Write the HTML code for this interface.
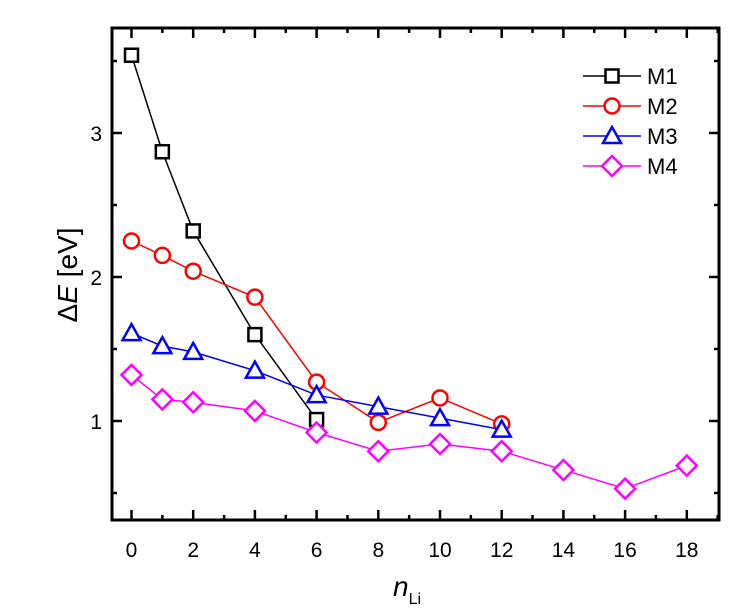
<!DOCTYPE html>
<html><head><meta charset="utf-8"><style>body{margin:0;background:#fff}svg{display:block;font-family:"Liberation Sans",sans-serif}</style></head>
<body>
<svg id="chart" width="736" height="615" xmlns="http://www.w3.org/2000/svg"></svg>
<script>
const xTicks=[0,2,4,6,8,10,12,14,16,18];
const yTicks=[1,2,3];
const m1X=[0,1,2,4,6], m1Y=[3.54,2.87,2.32,1.60,1.01];
const m2X=[0,1,2,4,6,8,10,12], m2Y=[2.25,2.15,2.04,1.86,1.27,0.99,1.16,0.98];
const m3X=[0,1,2,4,6,8,10,12], m3Y=[1.61,1.52,1.48,1.35,1.18,1.10,1.02,0.94];
const m4X=[0,1,2,4,6,8,10,12,14,16,18], m4Y=[1.32,1.15,1.13,1.07,0.92,0.79,0.84,0.79,0.66,0.53,0.69];
const names=["M1","M2","M3","M4"], colors=["#000","#f00","#00f","#f0f"], shapes=["square","circle","triangle","diamond"];
const L=112,R=719,T=28,B=520;
const sx=v=>131.5+v*30.85;
const sy=v=>421-(v-1)*144;
const svg=document.getElementById('chart');
const NS="http://www.w3.org/2000/svg";
function mk(tag,attrs,parent){const e=document.createElementNS(NS,tag);for(const k in attrs)e.setAttribute(k,attrs[k]);(parent||svg).appendChild(e);return e;}
function marker(shape,x,y,c,g){
  if(shape==="square")return mk('rect',{x:x-6.5,y:y-6.5,width:13,height:13,fill:'#fff',stroke:c,'stroke-width':2.5},g);
  if(shape==="circle")return mk('circle',{cx:x,cy:y,r:7.5,fill:'#fff',stroke:c,'stroke-width':2.5},g);
  if(shape==="triangle")return mk('polygon',{points:`${x},${y-9} ${x-9},${y+7} ${x+9},${y+7}`,fill:'#fff',stroke:c,'stroke-width':2.5},g);
  return mk('polygon',{points:`${x},${y-10} ${x+10},${y} ${x},${y+10} ${x-10},${y}`,fill:'#fff',stroke:c,'stroke-width':2.5},g);
}
for(let v=0;v<=19;v++){const x=sx(v);if(x>R)break;const len=v%2===0?10:5;
  let t=mk('line',{x1:x,y1:B,x2:x,y2:B-len,stroke:'#000','stroke-width':2.5});
  mk('line',{x1:x,y1:T,x2:x,y2:T+len,stroke:'#000','stroke-width':2.5});}
xTicks.forEach(v=>{const t=mk('text',{x:sx(v),y:557,'font-size':21,'text-anchor':'middle'});t.textContent=v;});
for(let v=0.5;v<=3.75;v+=0.5){const y=sy(v);if(y<T||y>B)continue;const len=(v%1===0)?10:5;
  mk('line',{x1:L,y1:y,x2:L+len,y2:y,stroke:'#000','stroke-width':2.5});
  mk('line',{x1:R,y1:y,x2:R-len,y2:y,stroke:'#000','stroke-width':2.5});}
yTicks.forEach(v=>{const t=mk('text',{x:102,y:sy(v)+8,'font-size':21,'text-anchor':'end'});t.textContent=v;});
const fr=mk('rect',{x:L,y:T,width:R-L,height:B-T,fill:'none',stroke:'#000','stroke-width':3});

const series=[[m1X,m1Y],[m2X,m2Y],[m3X,m3Y],[m4X,m4Y]];
series.forEach((s,i)=>{const g=mk('g',{});
  
  mk('polyline',{points:s[0].map((x,j)=>sx(x)+','+sy(s[1][j])).join(' '),fill:'none',stroke:colors[i],'stroke-width':1.5},g);
  s[0].forEach((x,j)=>{const m=marker(shapes[i],sx(x),sy(s[1][j]),colors[i],g);});
  const ly=76+i*30;const lg=mk('g',{});
  mk('line',{x1:583,y1:ly,x2:641,y2:ly,stroke:colors[i],'stroke-width':1.5},lg);
  marker(shapes[i],612,ly,colors[i],lg);
  const t=mk('text',{x:647,y:ly+8,'font-size':22},lg);t.textContent=names[i];
});
</script>
<div style="position:absolute;left:0;top:0;width:736px;height:615px;pointer-events:none">
<div style="position:absolute;left:68px;top:275px;transform:translate(-50%,-50%) rotate(-90deg);font:28px 'Liberation Sans',sans-serif;white-space:nowrap">Δ<i>E</i> [eV]</div>
<div style="position:absolute;left:393px;top:571px;font:28px 'Liberation Sans',sans-serif;white-space:nowrap"><i>n</i><span style="font-size:16px;position:relative;top:8px">Li</span></div>
</div>
</body></html>
